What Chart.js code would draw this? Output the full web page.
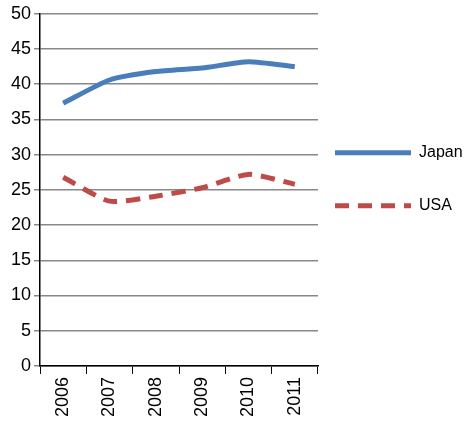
<!DOCTYPE html>
<html><head><script src="https://cdn.jsdelivr.net/npm/chart.js"></script>
<style>body{margin:0;background:#fff}#w{width:475px;height:434px}</style></head>
<body><div id="w"><canvas id="c"></canvas></div>
<script>
const years=['2006','2007','2008','2009','2010','2011'];
const japan=[37.3,40.6,41.8,42.3,43.2,42.5];
const usa=[26.8,23.4,24.1,25.3,27.2,25.8];
Chart.defaults.font.family='"Liberation Sans", Arial, sans-serif';
Chart.defaults.color='#000';
const legendPlugin={id:'lg',afterDraw(ch){
 const c=ch.ctx,x0=ch.chartArea.right+17;
 ch.data.datasets.forEach((d,i)=>{
  const y=ch.scales.y.top+139+i*53;
  c.save();c.strokeStyle=d.borderColor;c.lineWidth=5;c.setLineDash(d.borderDash||[]);
  c.beginPath();c.moveTo(x0,y);c.lineTo(x0+76,y);c.stroke();c.restore();
  c.save();c.fillStyle='#000';c.font='16px "Liberation Sans", Arial, sans-serif';c.textBaseline='middle';
  c.fillText(d.label,x0+84,y);c.restore();});}};
new Chart(document.getElementById('c'),{type:'line',
data:{labels:years,datasets:[
{label:'Japan',data:japan,borderColor:'#4a7ebb',borderWidth:5,pointRadius:0,tension:0.2,fill:false},
{label:'USA',data:usa,borderColor:'#be4b48',borderWidth:5,borderDash:[14,9],pointRadius:0,tension:0.2,fill:false}]},
plugins:[legendPlugin],
options:{responsive:true,maintainAspectRatio:false,animation:false,
layout:{padding:{top:1,right:157,left:8,bottom:14}},
plugins:{legend:{display:false},tooltip:{enabled:false}},
scales:{x:{offset:true,grid:{offset:true,display:true,drawOnChartArea:false,color:'#000',tickLength:8},border:{color:'#000',width:1.5},
 ticks:{maxRotation:90,minRotation:90,font:{size:18}}},
y:{min:0,max:50,ticks:{stepSize:5,font:{size:18}},grid:{color:'#888',lineWidth:1.5,tickLength:6},border:{color:'#000',width:1.5}}}}});
</script></body></html>
